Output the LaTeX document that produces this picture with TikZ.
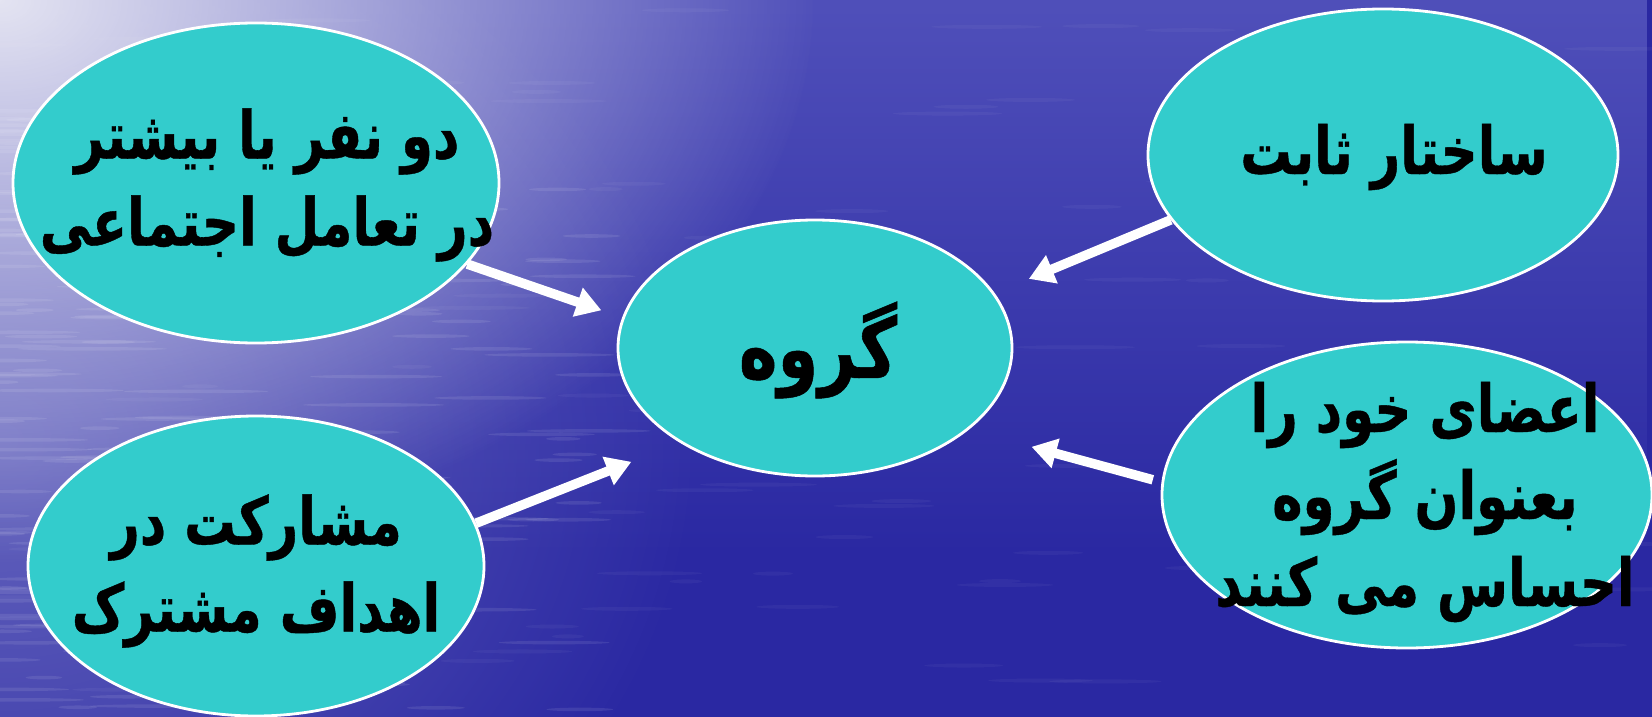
\documentclass[tikz,border=0pt]{standalone}
\usepackage{fontspec}
\usetikzlibrary{arrows.meta,shapes.geometric,fadings}
\TeXXeTstate=1
\newfontfamily\arabicfont[Script=Arabic, FakeStretch=0.78, BoldFeatures={FakeBold=0.6}]{DejaVu Sans}

\definecolor{seadeep}{HTML}{2A28A2}
\definecolor{seatop}{HTML}{5050BA}
\definecolor{seaglow}{HTML}{E4E4F2}
\definecolor{seaside}{HTML}{7A7AC8}
\definecolor{bubblefill}{HTML}{33CCCC}

\tikzfading[name=radialfade, inner color=transparent!0, outer color=transparent!100]
\tikzfading[name=topfade, top color=transparent!0, bottom color=transparent!100]

\begin{document}
\begin{tikzpicture}[x=1pt, y=-1pt,
  bubble/.style={ellipse, draw=white, line width=2.8pt, fill=bubblefill, inner sep=0pt},
  bubbletext/.style={font=\arabicfont\bfseries\fontsize{66}{87}\selectfont,
                     align=center, text=black, inner sep=0pt},
  push/.style={draw=white, line width=9.5pt, -{Triangle[length=25pt, width=29pt]}},
]
\useasboundingbox (0,0) rectangle (1652,717);
\clip (0,0) rectangle (1652,717);

% sea background
\fill[seadeep] (0,0) rectangle (1652,717);
\fill[seatop, path fading=topfade] (0,0) rectangle (1652,560);
\fill[seaside, opacity=0.75, path fading=radialfade] (0,440) ellipse [x radius=700, y radius=600];
\fill[seaglow, path fading=radialfade] (0,0) ellipse [x radius=820, y radius=560];

% wave streaks
\pgfmathsetseed{42}
\foreach \i in {1,...,170}{
  \pgfmathsetmacro{\sx}{(rnd)^2*600}
  \pgfmathsetmacro{\sy}{110+rnd*607}
  \pgfmathsetmacro{\sl}{15+rnd*60}
  \fill[white, opacity=0.09] (\sx,\sy) ellipse [x radius=\sl, y radius=1.8];
}
\foreach \i in {1,...,90}{
  \pgfmathsetmacro{\sx}{rnd*1652}
  \pgfmathsetmacro{\sy}{rnd*717}
  \pgfmathsetmacro{\sl}{15+rnd*45}
  \fill[white, opacity=0.04] (\sx,\sy) ellipse [x radius=\sl, y radius=2];
}

% bubbles
\node[bubble, minimum width=394pt, minimum height=256pt] (c)  at (815,348) {};
\node[bubble, minimum width=486pt, minimum height=320pt] (tl) at (256,183) {};
\node[bubble, minimum width=456pt, minimum height=300pt] (bl) at (256,566) {};
\node[bubble, minimum width=470pt, minimum height=292pt] (tr) at (1383,155) {};
\node[bubble, minimum width=490pt, minimum height=306pt] (br) at (1407,495) {};

% labels
\node[bubbletext, font=\arabicfont\bfseries\fontsize{84}{90}\selectfont] (ctext) at (818,350) {\beginR گروه\endR};
\node[bubbletext] (tltext) at (267,185) {\beginR دو نفر یا بیشتر\endR\\\beginR در تعامل اجتماعی\endR};
\node[bubbletext] (bltext) at (256,571) {\beginR مشارکت در\endR\\\beginR اهداف مشترک\endR};
\node[bubbletext] (trtext) at (1394,157) {\beginR ساختار ثابت\endR};
\node[bubbletext] (brtext) at (1425,502) {\beginR اعضای خود را\endR\\\beginR بعنوان گروه\endR\\\beginR احساس می کنند\endR};

% arrows into the group bubble
\draw[push, shorten >=22pt] (tl.-21) -- (c.171);
\draw[push, shorten >=52pt] (bl.11) -- (c.-145);
\draw[push, shorten >=37pt] (tr.-163) -- (c.17);
\draw[push, shorten <=9pt, shorten >=65pt] (br.177) -- (c.-28.5);
\end{tikzpicture}
\end{document}
